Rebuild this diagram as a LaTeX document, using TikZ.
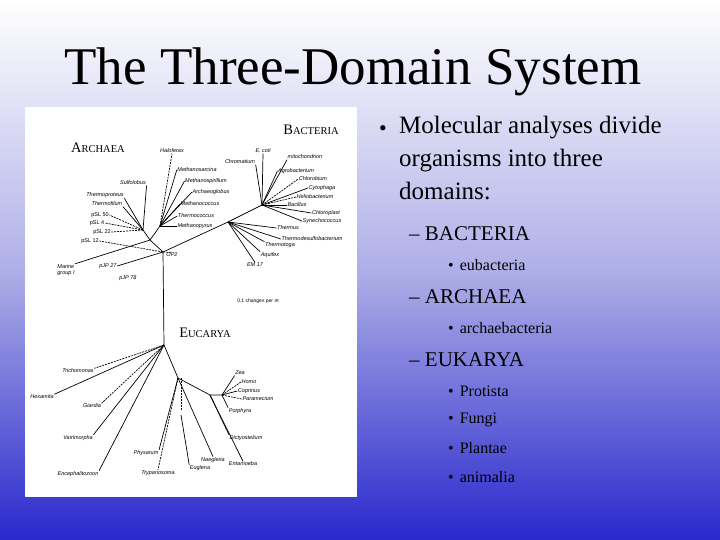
\documentclass[tikz,border=0pt]{standalone}
\usepackage{fontspec}
\setmainfont{Liberation Serif}
\newfontfamily\lab{Liberation Sans}
\definecolor{bgblue}{RGB}{40,40,205}
\definecolor{bgmid}{RGB}{175,175,232}
\newcommand{\fsc}[2]{#1{\fontsize{10.5}{11}\selectfont #2}}
\begin{document}
\begin{tikzpicture}[x=1pt,y=-1pt,
  leaf/.style={font=\lab\itshape\fontsize{5.5}{6}\selectfont,inner sep=0.5pt},
  dom/.style={font=\fontsize{14.5}{14}\selectfont},
  br/.style={line width=0.7pt},
  dbr/.style={line width=0.7pt,dashed,dash pattern=on 2pt off 1pt},
  txt/.style={anchor=west,inner sep=0pt,align=left}]
\useasboundingbox (0,0) rectangle (720,540);
\shade[top color=white,bottom color=bgblue,middle color=bgmid] (0,0) rectangle (720,540);
\shade[top color=white,bottom color=white!60!bgmid] (0,0) rectangle (720,110);
\node[font=\fontsize{53}{53}\selectfont] (title) at (353,72) {The Three-Domain System};
% panel
\fill[white] (25,107) rectangle (357,497);
\node[dom] (arch) at (98,148) {\fsc{A}{RCHAEA}};
\node[dom] (bact) at (311,130) {\fsc{B}{ACTERIA}};
\node[dom] (euk) at (205,333) {\fsc{E}{UCARYA}};
\node[leaf,font=\lab\fontsize{5}{6}\selectfont] (scale) at (258,301) {0.1 changes per nt};
% internal nodes
\coordinate (R) at (163,252);
\coordinate (HA) at (150,240);
\coordinate (C) at (143,230);
\coordinate (E) at (160,226);
\coordinate (B) at (228,222);
\coordinate (B2) at (262,205);
\coordinate (EH) at (164,345);
\coordinate (E2) at (178,378);
\coordinate (E3) at (210,395);
\coordinate (E4) at (222,395);
\draw[br] (R) -- (HA) -- (C);
\draw[br] (HA) -- (E);
\draw[br] (R) -- (B);
\draw[br] (B) -- (B2);
\draw[br] (R) -- (EH);
\draw[br] (EH) -- (E2) -- (E3) -- (E4);
% Archaea leaves
\node[leaf,align=left] (mg) at (66,270) {Marine\\group I};
\node[leaf] (pj27) at (108,266) {pJP 27};
\node[leaf] (pj78) at (128,278) {pJP 78};
\node[leaf,font=\lab\fontsize{5.5}{6}\selectfont] (p12) at (90,241) {pSL 12};
\node[leaf,font=\lab\fontsize{5.5}{6}\selectfont] (p22) at (102,232) {pSL 22};
\node[leaf,font=\lab\fontsize{5.5}{6}\selectfont] (p4) at (97,223) {pSL 4};
\node[leaf,font=\lab\fontsize{5.5}{6}\selectfont] (p50) at (100,215) {pSL 50};
\node[leaf] (tf) at (107,204) {Thermofilum};
\node[leaf] (tp) at (105,195) {Thermoproteus};
\node[leaf] (sul) at (133,183) {Sulfolobus};
\node[leaf] (hal) at (172,151) {Haloferax};
\node[leaf] (msar) at (197,170) {Methanosarcina};
\node[leaf] (mspi) at (206,181) {Methanospirillum};
\node[leaf] (arg) at (211,192) {Archaeoglobus};
\node[leaf] (mcoc) at (200,204) {Methanococcus};
\node[leaf] (tcoc) at (196,216) {Thermococcus};
\node[leaf] (mpyr) at (195,226) {Methanopyrus};
\draw[br] (HA) -- (mg.north east);
\draw[br] (R) -- (pj27.east);
\draw[dbr] (R) -- (p12.east);
\draw[dbr] (C) -- (p22.east);
\draw[dbr] (C) -- (p4.east);
\draw[dbr] (C) -- (p50.east);
\draw[br] (C) -- (tf.south east);
\draw[br] (C) -- (tp.south east);
\draw[br] (C) -- (sul.south east);
\draw[dbr] (E) -- (hal.south);
\draw[br] (E) -- (msar.west);
\draw[br] (E) -- (mspi.west);
\draw[br] (E) -- (arg.west);
\draw[br] (E) -- (mcoc.west);
\draw[br] (E) -- (tcoc.west);
\draw[br] (E) -- (mpyr.west);
% Bacteria leaves
\node[leaf] (em) at (255,265) {EM 17};
\node[leaf] (aq) at (270,255) {Aquifex};
\node[leaf] (tt) at (280,245) {Thermotoga};
\node[leaf] (tds) at (312,239) {Thermodesulfobacterium};
\node[leaf] (th) at (288,228) {Thermus};
\node[leaf] (syn) at (322,221) {Synechococcus};
\node[leaf] (chl) at (326,213) {Chloroplast};
\node[leaf] (bac) at (297,205) {Bacillus};
\node[leaf] (hel) at (315,197) {Heliobacterium};
\node[leaf] (cyt) at (322,188) {Cytophaga};
\node[leaf] (chb) at (313,179) {Chlorobium};
\node[leaf] (agr) at (296,171) {Agrobacterium};
\node[leaf] (mit) at (305,157) {mitochondrion};
\node[leaf] (eco) at (263,151) {E. coli};
\node[leaf] (chr) at (240,162) {Chromatium};
\node[leaf] (op) at (172,255) {OP2};
\draw[br] (B) -- (em.north);
\draw[br] (B) -- (aq.north west);
\draw[br] (B) -- (tt.north west);
\draw[br] (B) -- (tds.west);
\draw[br] (B) -- (th.west);
\draw[br] (B2) -- (syn.west);
\draw[br] (B2) -- (chl.west);
\draw[br] (B2) -- (bac.west);
\draw[dbr] (B2) -- (hel.west);
\draw[br] (B2) -- (cyt.west);
\draw[dbr] (B2) -- (chb.west);
\draw[br] (B2) -- (agr.west);
\draw[br] (B2) -- (mit.south west);
\draw[br] (B2) -- (eco.south);
\draw[br] (B2) -- (chr.south east);
\draw[dbr] (R) -- (op.north);
% Eukarya leaves
\node[leaf] (tri) at (78,371) {Trichomonas};
\node[leaf] (hex) at (42,397) {Hexamita};
\node[leaf] (gia) at (92,406) {Giardia};
\node[leaf] (vai) at (78,438) {Vairimorpha};
\node[leaf] (enc) at (78,474) {Encephalitozoon};
\node[leaf] (phy) at (146,453) {Physarum};
\node[leaf] (try) at (158,473) {Trypanosoma};
\node[leaf] (eug) at (200,468) {Euglena};
\node[leaf] (nae) at (213,460) {Naegleria};
\node[leaf] (ent) at (243,464) {Entamoeba};
\node[leaf] (dic) at (246,438) {Dictyostelium};
\node[leaf] (por) at (240,411) {Porphyra};
\node[leaf] (par) at (258,399) {Paramecium};
\node[leaf] (cop) at (249,391) {Coprinus};
\node[leaf] (homo) at (249,382) {Homo};
\node[leaf] (zea) at (240,373) {Zea};
\draw[dbr] (EH) -- (tri.north east);
\draw[br] (EH) -- (hex.north east);
\draw[dbr] (EH) -- (gia.north east);
\draw[br] (EH) -- (vai.north east);
\draw[br] (EH) -- (enc.north east);
\draw[br] (E2) -- (phy.north east);
\draw[dbr] (E2) -- (try.north);
\draw[br] (181,415) -- (eug.north west);
\draw[dbr] (181,378) -- (181,410);
\draw[br] (E2) -- (nae.north);
\draw[br] (E3) -- (ent.north);
\draw[br] (E3) -- (dic.north west);
\draw[br] (E4) -- (por.north west);
\draw[dbr] (E4) -- (par.west);
\draw[br] (E4) -- (cop.west);
\draw[dbr] (E4) -- (homo.west);
\draw[br] (E4) -- (zea.south west);
% right text
\node[txt,font=\fontsize{22}{20}\selectfont] (l1) at (379,131) {•};
\node[txt,font=\fontsize{25}{33}\selectfont,anchor=north west] (t1) at (399,116) {Molecular analyses divide\\organisms into three\\domains:};
\node[txt,font=\fontsize{21}{25}\selectfont] (b1) at (409,234) {– BACTERIA};
\node[txt,font=\fontsize{16}{20}\selectfont] (b1a) at (448,265) {•\hspace{6pt}eubacteria};
\node[txt,font=\fontsize{21}{25}\selectfont] (b2) at (409,297) {– ARCHAEA};
\node[txt,font=\fontsize{16}{20}\selectfont] (b2a) at (448,328) {•\hspace{6pt}archaebacteria};
\node[txt,font=\fontsize{21}{25}\selectfont] (b3) at (409,360) {– EUKARYA};
\node[txt,font=\fontsize{16}{20}\selectfont] (b3a) at (448,391) {•\hspace{6pt}Protista};
\node[txt,font=\fontsize{16}{20}\selectfont] (b3b) at (448,420) {•\hspace{6pt}Fungi};
\node[txt,font=\fontsize{16}{20}\selectfont] (b3c) at (448,448) {•\hspace{6pt}Plantae};
\node[txt,font=\fontsize{16}{20}\selectfont] (b3d) at (448,477) {•\hspace{6pt}animalia};
\end{tikzpicture}
\end{document}
